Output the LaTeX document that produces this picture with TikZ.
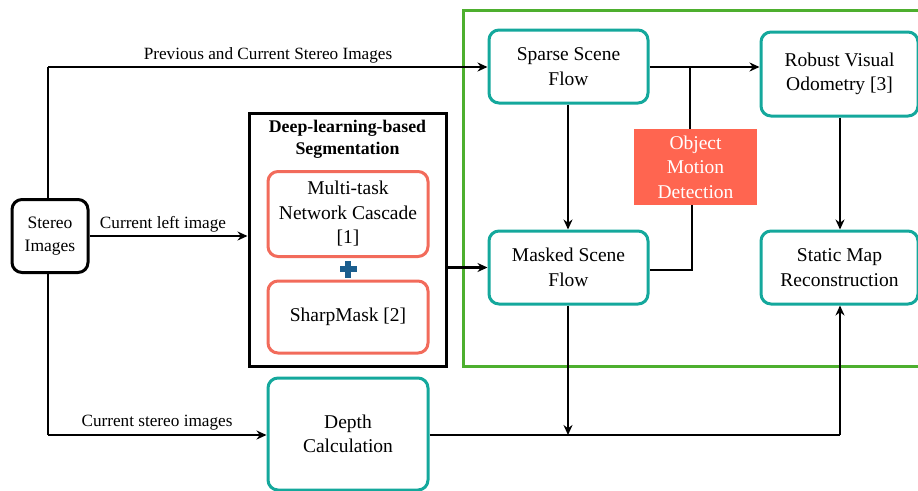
\documentclass[tikz,border=0pt]{standalone}
\usepackage{fontspec}
\setmainfont{Liberation Serif}
\usetikzlibrary{arrows.meta}
\definecolor{teal1}{HTML}{14A89C}
\definecolor{salmon1}{HTML}{F26B5B}
\definecolor{omd}{HTML}{FF6550}
\definecolor{green1}{HTML}{4DAF2E}
\definecolor{plusblue}{HTML}{1B5E8E}
\tikzset{
  boxbase/.style={draw, line width=3pt, rounded corners=10pt, align=center, inner sep=0pt, font=\fontsize{19.5}{24.5}\selectfont},
  tealbox/.style={boxbase, draw=teal1},
  salbox/.style={boxbase, draw=salmon1},
  blkbox/.style={boxbase, draw=black, font=\fontsize{17.5}{23}\selectfont},
  conn/.style={line width=2.8pt, draw=black},
  arr/.style={conn, -{Stealth[length=10pt,width=9pt]}},
  lbl/.style={font=\fontsize{17.2}{20}\selectfont, inner sep=0pt}
}
\begin{document}
\begin{tikzpicture}[x=1pt,y=-1pt]
\useasboundingbox (0,0) rectangle (918,490);
% frames
\draw[green1, line width=3pt] (463,10) rectangle (930,366);
\node[draw=black, line width=3pt, minimum width=197pt, minimum height=253pt, inner sep=0pt] (seg) at (347.5,239.5) {};
\node[font=\bfseries\fontsize{17.8}{22}\selectfont, align=center, anchor=north] (segt) at (347.5,117) {Deep-learning-based\\Segmentation};
% nodes
\node[blkbox, minimum width=76pt, minimum height=73pt] (stereo) at (50,236) {Stereo\\Images};
\node[salbox, minimum width=160pt, minimum height=85pt] (mtnc) at (348,214) {Multi-task\\Network Cascade\\{[1]}};
\node[salbox, minimum width=160pt, minimum height=72pt] (sharp) at (348,317) {SharpMask [2]};
\node[inner sep=0pt, minimum size=17pt] (plus) at (348,269) {};
\fill[plusblue] ([xshift=-8.5pt,yshift=-3pt]plus.center) rectangle ([xshift=8.5pt,yshift=3pt]plus.center);
\fill[plusblue] ([xshift=-3pt,yshift=-8.5pt]plus.center) rectangle ([xshift=3pt,yshift=8.5pt]plus.center);
\node[tealbox, minimum width=159pt, minimum height=73pt] (sparse) at (568.5,66.5) {Sparse Scene\\Flow};
\node[tealbox, minimum width=157pt, minimum height=84pt] (robust) at (839.5,74) {Robust Visual\\Odometry [3]};
\node[tealbox, minimum width=159pt, minimum height=73pt] (masked) at (568.5,267.5) {Masked Scene\\Flow};
\node[tealbox, minimum width=157pt, minimum height=73pt] (static) at (839.5,267.5) {Static Map\\Reconstruction};
\node[tealbox, minimum width=160pt, minimum height=112pt] (depth) at (348,434) {Depth\\Calculation};
\node[fill=omd, text=white, align=center, minimum width=123pt, minimum height=76pt, inner sep=0pt, font=\fontsize{19.5}{24.5}\selectfont] (omd) at (695.5,167) {Object\\Motion\\Detection};
% coordinates
\coordinate (tl) at (48,67);
\coordinate (bl) at (48,435);
\coordinate (j1) at (690,67);
\coordinate (j2) at (692,270);
\coordinate (dm) at (568,435);
\coordinate (dr) at (840,435);
% connectors
\draw[conn] (stereo.north -| tl) -- (tl);
\draw[arr] (tl) -- (sparse.west |- tl);
\draw[conn] (stereo.south -| bl) -- (bl);
\draw[arr] (bl) -- (depth.west |- bl);
\draw[arr] (stereo.east) -- (seg.west |- stereo.east);
\draw[arr] (seg.east |- masked.west) -- (masked.west);
\draw[arr] (sparse.east |- j1) -- (robust.west |- j1);
\draw[conn] (j1) -- (omd.north -| j1);
\draw[conn] (omd.south -| j2) -- (j2) -- (masked.east |- j2);
\draw[arr] (sparse.south -| dm) -- (masked.north -| dm);
\draw[arr] (robust.south -| dr) -- (static.north -| dr);
\draw[arr] (masked.south -| dm) -- (dm);
\draw[conn] (depth.east |- dr) -- (dr);
\draw[arr] (dr) -- (static.south -| dr);
% labels
\node[lbl] (l1) at (268,55) {Previous and Current Stereo Images};
\node[lbl] (l2) at (163,224) {Current left image};
\node[lbl] (l3) at (157,423) {Current stereo images};
\end{tikzpicture}
\end{document}
